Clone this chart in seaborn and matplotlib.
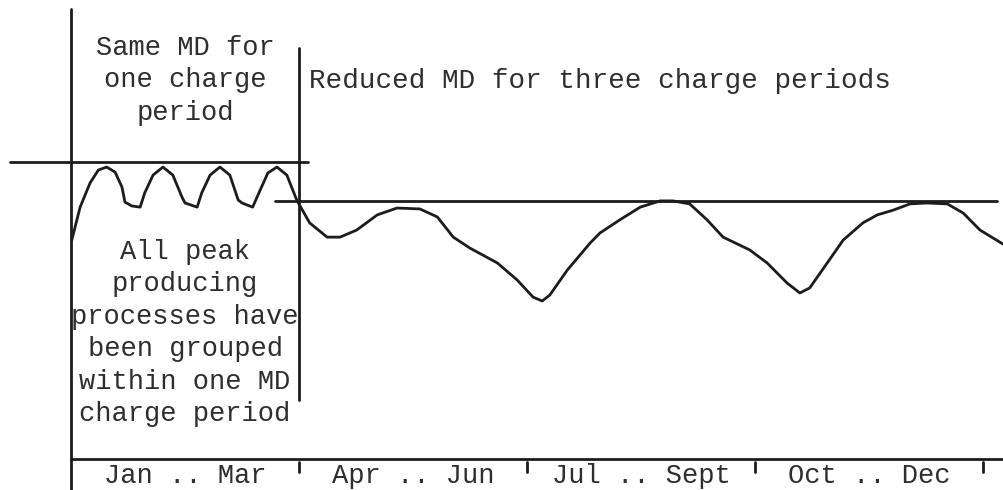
import numpy as np
import pandas as pd
import seaborn as sns
import matplotlib
matplotlib.use("Agg")
import matplotlib.pyplot as plt

# demand profile over the year (x in months from 1 Jan, y in % of original MD)
months = [0.01, 0.12, 0.25, 0.36, 0.47, 0.58, 0.67, 0.71, 0.80, 0.91, 0.97, 1.08,
          1.21, 1.34, 1.46, 1.50, 1.66, 1.72, 1.83, 1.96, 2.09, 2.20, 2.25, 2.39,
          2.49, 2.59, 2.71, 2.84, 2.97, 3.14, 3.37, 3.54, 3.76, 4.03, 4.29, 4.59,
          4.82, 5.03, 5.25, 5.61, 5.87, 6.08, 6.20, 6.30, 6.53, 6.83, 6.96, 7.22,
          7.49, 7.75, 7.92, 8.14, 8.37, 8.58, 8.93, 9.16, 9.42, 9.59, 9.72, 9.95,
          10.16, 10.42, 10.61, 10.82, 11.04, 11.26, 11.53, 11.74, 11.96, 12.28]
demand = [73.7, 84.8, 92.9, 97.3, 98.3, 96.6, 91.6, 86.5, 85.2, 84.8, 89.6, 95.6,
          98.3, 95.6, 88.2, 86.2, 84.8, 89.6, 95.6, 98.3, 95.6, 87.2, 86.2, 84.8,
          90.6, 96.3, 98.3, 95.6, 87.2, 79.5, 74.7, 74.7, 77.1, 82.2, 84.5, 84.2,
          81.5, 74.7, 71.0, 66.0, 60.3, 54.5, 53.2, 55.2, 63.6, 72.7, 76.1, 80.5,
          84.8, 86.9, 86.9, 85.9, 80.5, 74.7, 70.4, 66.0, 59.3, 55.9, 57.6, 66.0,
          73.7, 79.5, 82.2, 83.8, 85.9, 86.2, 85.9, 82.8, 77.1, 72.1]

md_old = 100
md_new = 87
quarter_edges = [3, 6, 9, 12]
quarter_labels = ["Jan .. Mar", "Apr .. Jun", "Jul .. Sept", "Oct .. Dec"]

sns.set_style("white")
plt.rcParams["font.family"] = ["Liberation Mono", "DejaVu Sans Mono"]

ink = "#1c1c1c"
txt = "#2e2e2e"
lw = 2.0

fig = plt.figure(figsize=(10.04, 4.9), dpi=100)
ax = fig.add_axes([0, 0, 1, 1])

df = pd.DataFrame({"month": months, "demand": demand})
sns.lineplot(data=df, x="month", y="demand", ax=ax, color=ink, lw=lw,
             sort=False, estimator=None, solid_joinstyle="round",
             solid_capstyle="round")

# MD levels
ax.plot([-0.80, 3.12], [md_old, md_old], color=ink, lw=lw)
ax.plot([2.68, 12.18], [md_new, md_new], color=ink, lw=lw)

# axes drawn by hand, like the original diagram
ax.plot([0, 0], [-11, 151.5], color=ink, lw=lw)
ax.plot([0, 12.3], [0, 0], color=ink, lw=lw)
ax.plot([3, 3], [19.9, 138.4], color=ink, lw=lw)
for q in quarter_edges:
    ax.plot([q, q], [-1.0, -4.4], color=ink, lw=lw)

fs = 19.5
ax.text(1.5, 127.5, "Same MD for\none charge\nperiod", ha="center", va="center",
        fontsize=fs, color=txt, linespacing=1.32)
ax.text(6.96, 127.3, "Reduced MD for three charge periods", ha="center",
        va="center", fontsize=19.9, color=txt)
ax.text(1.5, 42.4, "All peak\nproducing\nprocesses have\nbeen grouped\n"
        "within one MD\ncharge period", ha="center", va="center",
        fontsize=fs, color=txt, linespacing=1.32)
for q, lab in zip(quarter_edges, quarter_labels):
    ax.text(q - 1.5, -5.6, lab, ha="center", va="center", fontsize=fs, color=txt)

ax.set_xlim(-71 / 76, 933 / 76)
ax.set_ylim(-31 / 2.97, 459 / 2.97)
ax.axis("off")

fig.savefig("out.png", dpi=100)
